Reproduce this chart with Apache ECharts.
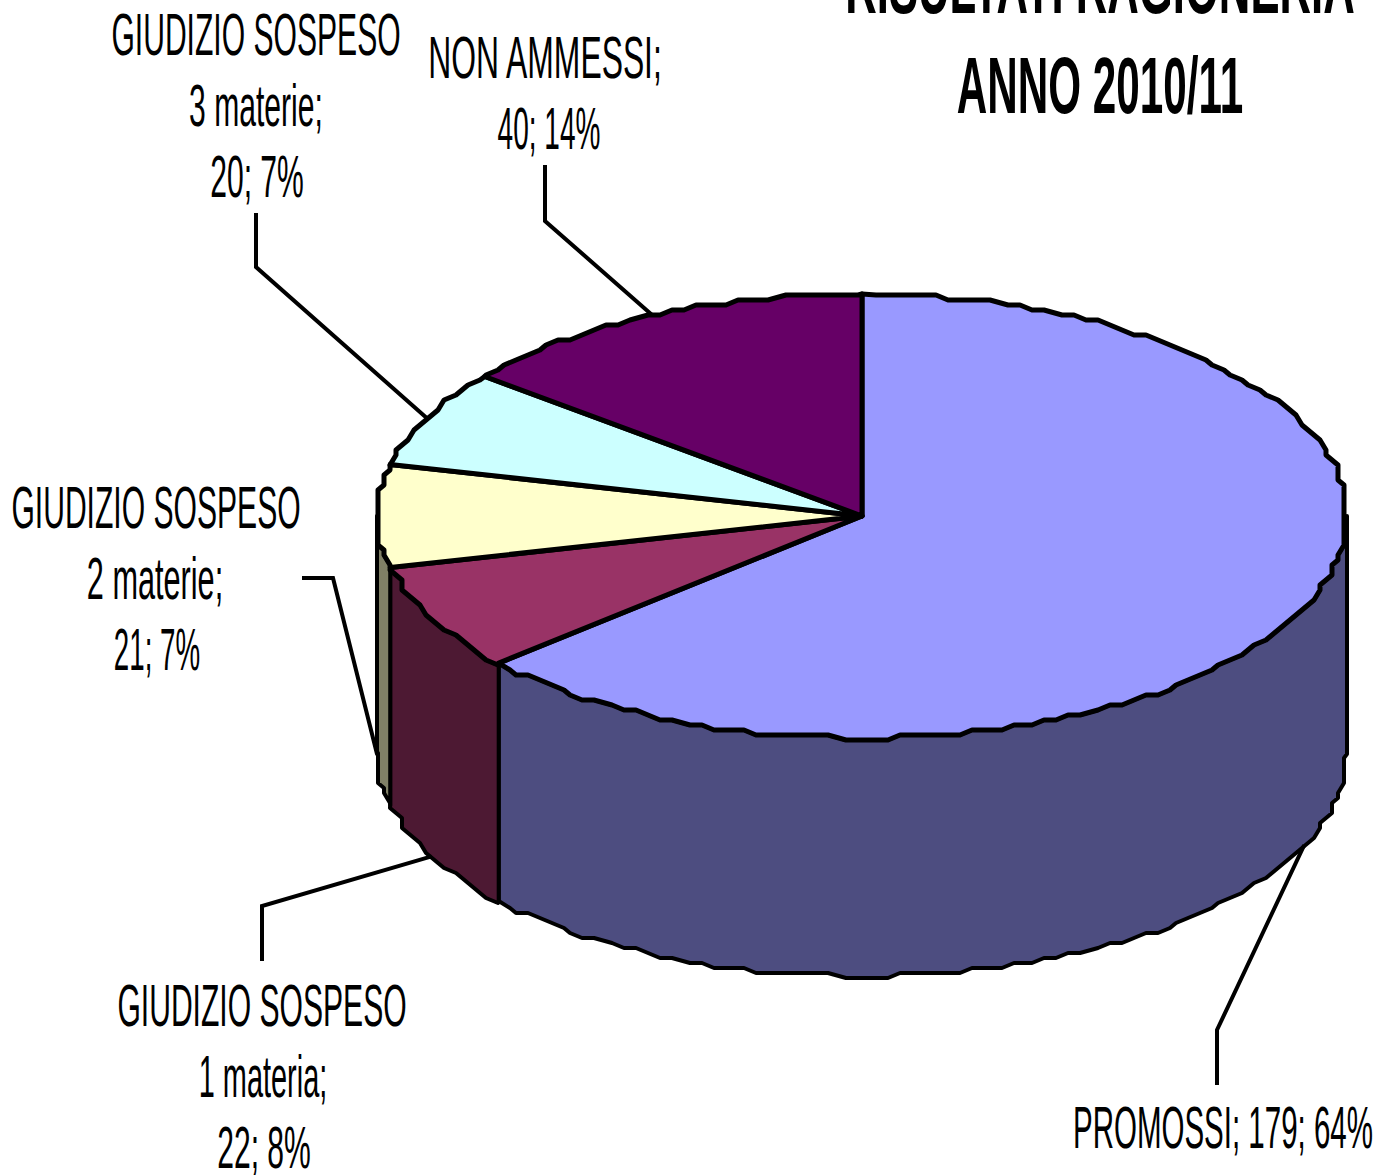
<!DOCTYPE html>
<html>
<head>
<meta charset="utf-8">
<title>Risultati Ragioneria</title>
<style>
html,body{margin:0;padding:0;background:#fff}
#main{width:1383px;height:1175px}
</style>
<script src="https://cdn.jsdelivr.net/npm/echarts@6/dist/echarts.min.js"></script>
</head>
<body>
<div id="main"></div>
<script>
// data
var categories = ['PROMOSSI', 'GIUDIZIO SOSPESO 1 materia', 'GIUDIZIO SOSPESO 2 materie', 'GIUDIZIO SOSPESO 3 materie', 'NON AMMESSI']
var values = [179, 22, 21, 20, 40]
var percents = [64, 8, 7, 7, 14]
var title_lines = ['RISULTATI RAGIONERIA', 'ANNO 2010/11']
var label_lines = [
	['PROMOSSI; 179; 64%'],
	['GIUDIZIO SOSPESO', '1 materia;', '22; 8%'],
	['GIUDIZIO SOSPESO', '2 materie;', '21; 7%'],
	['GIUDIZIO SOSPESO', '3 materie;', '20; 7%'],
	['NON AMMESSI;', '40; 14%']
]
var top_colors = ['#9999FF', '#993366', '#FFFFCC', '#CCFFFF', '#660066']
var side_colors = ['#4D4D80', '#4D1933', '#808066', '#668080', '#330033']

// layout of the pie and of the labels
var cx = 862, cy = 516, rx = 485, ry = 222, depth = 238
var angle_step = 0.03, grid_x = 6, grid_y = 5
var title_scale = [0.546, 0.528]
var label_x = [[1223], [262, 263, 264], [156, 155, 157], [256, 256, 257], [545, 549]]
var label_y = [1157, 1035, 537, 64, 87]
var label_scale = [[0.5], [0.51, 0.49, 0.51], [0.51, 0.52, 0.47], [0.51, 0.51, 0.51], [0.54, 0.475]]
var leader_start = [[1217, 1085], [262, 961], [302, 578], [256, 213], [545, 165]]
var leader_elbow = [[1217, 1030], [262, 906], [333, 578], [256, 267], [545, 221]]

var total = values.reduce(function(a, b){return a + b}, 0)
var edges = [0]
for(let i = 0, len = values.length; i < len; i++){
	edges.push(edges[i] + values[i] / total * 2 * Math.PI)
}

function on_ellipse(angle, dy){
	return [cx + rx * Math.sin(angle), cy + dy - ry * Math.cos(angle)]
}

// the old chart has a stepped outline, so rim points are snapped to a coarse grid
function snapped(angle, dy){
	let p = on_ellipse(angle, 0)
	return [Math.round(p[0] / grid_x) * grid_x, Math.round(p[1] / grid_y) * grid_y + dy]
}

// rim points from a0 to a1 (a0 < a1), sampled on a shared angle grid so wall and top agree
function arc_points(a0, a1, dy){
	let pts = [on_ellipse(a0, dy)]
	let k = Math.floor(a0 / angle_step) + 1
	while(k * angle_step < a1){
		pts.push(snapped(k * angle_step, dy))
		k++
	}
	pts.push(on_ellipse(a1, dy))
	return pts
}

function render_wall(params, api){
	let i = params.dataIndex
	let a0 = Math.max(edges[i], Math.PI / 2)
	let a1 = Math.min(edges[i + 1], 3 * Math.PI / 2)
	if(a1 <= a0){
		return null
	}
	let pts = arc_points(a0, a1, 0).concat(arc_points(a0, a1, depth).reverse())
	return {
		type: 'polygon',
		shape: {points: pts},
		style: {fill: side_colors[i], stroke: '#000', lineWidth: 4, lineJoin: 'round'}
	}
}

function render_top(params, api){
	let i = params.dataIndex
	let pts = [[cx, cy]].concat(arc_points(edges[i], edges[i + 1], 0))
	return {
		type: 'polygon',
		shape: {points: pts},
		style: {fill: top_colors[i], stroke: '#000', lineWidth: 5, lineJoin: 'round'}
	}
}

function render_label(params, api){
	let i = params.dataIndex
	let mid = (edges[i] + edges[i + 1]) / 2
	// front slices get the leader on the lower rim, back ones on the top rim
	let is_front = Math.cos(mid) < 0.01
	let end = on_ellipse(mid, is_front ? depth : 0)
	let children = [{
		type: 'polyline',
		shape: {points: [leader_start[i], leader_elbow[i], end]},
		style: {fill: null, stroke: '#000', lineWidth: 4}
	}]
	label_lines[i].forEach(function(line, k){
		children.push({
			type: 'text',
			x: label_x[i][k],
			y: label_y[i] + k * 71,
			scaleX: label_scale[i][k],
			style: {
				text: line,
				fontFamily: 'Liberation Sans',
				fontSize: 59,
				fill: '#000',
				align: 'center',
				verticalAlign: 'bottom'
			}
		})
	})
	return {type: 'group', children: children}
}

var chart_data = categories.map(function(name, i){
	return {name: name, value: values[i]}
})

var pie_echart = echarts.init(document.getElementById('main'), null, {renderer: 'svg'})
var pie_option = {
	animation: false,
	backgroundColor: '#fff',
	graphic: title_lines.map(function(line, k){
		return {
			type: 'text',
			x: 1100,
			y: 26 + k * 99,
			scaleX: title_scale[k],
			style: {
				text: line,
				fontFamily: 'Liberation Sans',
				fontWeight: 'bold',
				fontSize: 80,
				fill: '#000',
				align: 'center',
				verticalAlign: 'bottom'
			}
		}
	}),
	series: [
		{type: 'custom', coordinateSystem: 'none', z: 1, data: chart_data, renderItem: render_wall},
		{type: 'custom', coordinateSystem: 'none', z: 2, data: chart_data, renderItem: render_label},
		{type: 'custom', coordinateSystem: 'none', z: 3, data: chart_data, renderItem: render_top}
	]
}
pie_echart.setOption(pie_option)
</script>
</body>
</html>
